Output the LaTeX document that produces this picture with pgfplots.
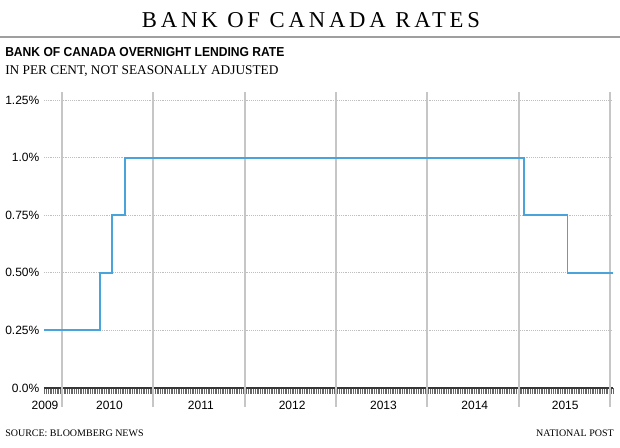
\documentclass[border=0pt]{standalone}
\usepackage{fontspec}
\setmainfont{Liberation Serif}
\setsansfont{Liberation Sans}
\newfontfamily\titlefont[LetterSpace=17]{Liberation Serif}
\newfontfamily\subfont[FakeStretch=0.93]{Liberation Sans Bold}
\usepackage{pgfplots}
\pgfplotsset{compat=1.18}
\definecolor{rateblue}{RGB}{75,163,220}
\definecolor{vgray}{RGB}{198,198,198}
\definecolor{axisdark}{RGB}{55,55,55}
\begin{document}
\begin{tikzpicture}
\useasboundingbox (0,0) rectangle (465pt,336pt);
\node[anchor=base, inner sep=0] at (233.25pt,315pt) {\titlefont\fontsize{17pt}{20pt}\selectfont BANK OF CANADA RATES};
\draw[color=gray!75, line width=1.1pt] (0,308.25pt) -- (465pt,308.25pt);
\node[anchor=base west, inner sep=0] at (3.75pt,293.25pt) {\subfont\fontsize{9.75pt}{12pt}\selectfont BANK OF CANADA OVERNIGHT LENDING RATE};
\node[anchor=base west, inner sep=0] at (3.75pt,279.75pt) {\fontsize{10pt}{12pt}\selectfont IN PER CENT, NOT SEASONALLY ADJUSTED};
\node[anchor=base west, inner sep=0] at (3.75pt,8.25pt) {\fontsize{7.5pt}{9pt}\selectfont SOURCE: BLOOMBERG NEWS};
\node[anchor=base east, inner sep=0] at (460.5pt,8.25pt) {\fontsize{7.5pt}{9pt}\selectfont NATIONAL POST};
\begin{axis}[
 at={(33pt,45pt)}, anchor=south west, scale only axis, width=426.75pt, height=222pt,
 xmin=2009.803, xmax=2016.033, ymin=0, ymax=1.285,
 axis x line*=bottom, axis y line*=left,
 x axis line style={draw=axisdark, line width=1.3pt, -},
 y axis line style={draw=none},
 ytick={0,0.25,0.5,0.75,1,1.25},
 yticklabels={0.0\%,0.25\%,0.50\%,0.75\%,1.0\%,1.25\%},
 ytick style={draw=none},
 ymajorgrids, y grid style={densely dotted, gray!50, line width=0.6pt},
 x grid style={draw=vgray, line width=1.3pt},
 xtick={2009.814,2010.52,2011.52,2012.52,2013.52,2014.52,2015.51},
 xticklabels={2009,2010,2011,2012,2013,2014,2015},
 tick align=outside,
 major tick length=0pt,
 minor tick length=4.5pt,
 minor xtick={2009.81,2009.8292,...,2016.03},
 minor tick style={draw=gray!80!black, line width=0.3pt},
 major tick style={draw=vgray, line width=1.3pt},
 extra x ticks={2010,2011,2012,2013,2014,2015,2016},
 extra x tick labels={},
 extra x tick style={xmajorgrids=true, major tick length=14.25pt},
 tick label style={font=\sffamily\fontsize{9pt}{10pt}\selectfont},
 xticklabel style={yshift=-6.5pt},
 clip=false,
]
\addplot[const plot, color=rateblue, line width=1.4pt] coordinates {
 (2009.803,0.25) (2010.414,0.5) (2010.548,0.75) (2010.686,1.0) (2015.055,0.75) (2015.535,0.5) (2016.033,0.5)
};
\end{axis}
\end{tikzpicture}
\end{document}
